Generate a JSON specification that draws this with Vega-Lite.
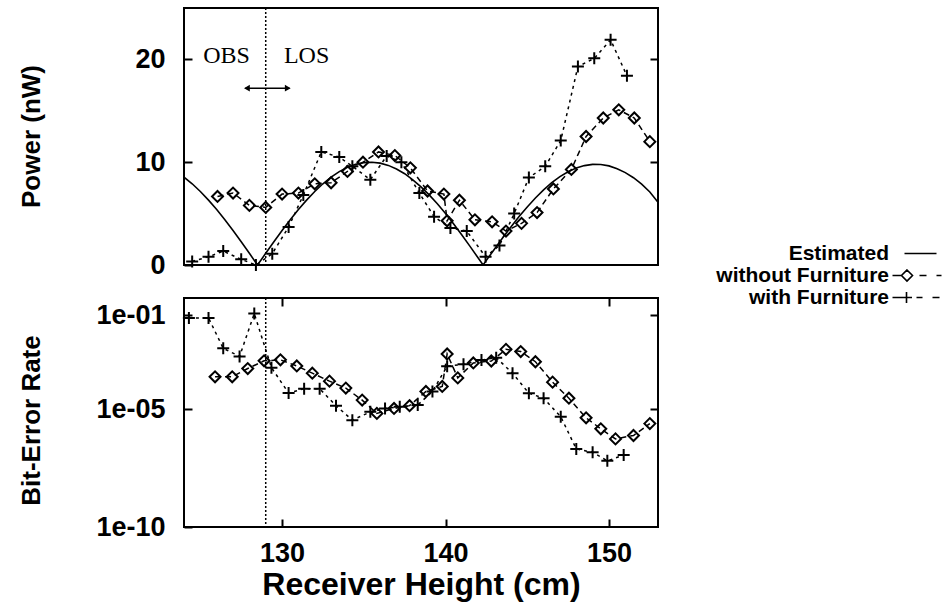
{
  "$schema": "https://vega.github.io/schema/vega-lite/v6.json",
  "padding": {"left": 17, "top": 6, "right": 5, "bottom": 5},
  "background": "white",
  "config": {
    "view": {"stroke": "black", "strokeWidth": 2},
    "font": "Liberation Sans",
    "axis": {
      "grid": false, "domain": false, "tickColor": "black", "tickWidth": 2, "tickSize": -8,
      "labelColor": "black", "labelFont": "Liberation Sans", "labelFontWeight": "bold", "labelFontSize": 27,
      "titleFont": "Liberation Sans", "titleFontWeight": "bold", "titleFontSize": 26, "titleColor": "black"
    }
  },
  "datasets": {
    "power": [
      {"series": "Estimated", "height": 124, "power": 8.54},
      {"series": "Estimated", "height": 124.5, "power": 7.9},
      {"series": "Estimated", "height": 125, "power": 7.15},
      {"series": "Estimated", "height": 125.5, "power": 6.31},
      {"series": "Estimated", "height": 126, "power": 5.39},
      {"series": "Estimated", "height": 126.5, "power": 4.4},
      {"series": "Estimated", "height": 127, "power": 3.35},
      {"series": "Estimated", "height": 127.5, "power": 2.26},
      {"series": "Estimated", "height": 128, "power": 1.14},
      {"series": "Estimated", "height": 128.5, "power": 0},
      {"series": "Estimated", "height": 129, "power": 1.14},
      {"series": "Estimated", "height": 129.5, "power": 2.26},
      {"series": "Estimated", "height": 130, "power": 3.35},
      {"series": "Estimated", "height": 130.5, "power": 4.4},
      {"series": "Estimated", "height": 131, "power": 5.39},
      {"series": "Estimated", "height": 131.5, "power": 6.31},
      {"series": "Estimated", "height": 132, "power": 7.15},
      {"series": "Estimated", "height": 132.5, "power": 7.9},
      {"series": "Estimated", "height": 133, "power": 8.54},
      {"series": "Estimated", "height": 133.5, "power": 9.08},
      {"series": "Estimated", "height": 134, "power": 9.5},
      {"series": "Estimated", "height": 134.5, "power": 9.79},
      {"series": "Estimated", "height": 135, "power": 9.96},
      {"series": "Estimated", "height": 135.5, "power": 10.0},
      {"series": "Estimated", "height": 136, "power": 9.91},
      {"series": "Estimated", "height": 136.5, "power": 9.69},
      {"series": "Estimated", "height": 137, "power": 9.34},
      {"series": "Estimated", "height": 137.5, "power": 8.88},
      {"series": "Estimated", "height": 138, "power": 8.29},
      {"series": "Estimated", "height": 138.5, "power": 7.6},
      {"series": "Estimated", "height": 139, "power": 6.82},
      {"series": "Estimated", "height": 139.5, "power": 5.96},
      {"series": "Estimated", "height": 140, "power": 5.0},
      {"series": "Estimated", "height": 140.5, "power": 3.99},
      {"series": "Estimated", "height": 141, "power": 2.92},
      {"series": "Estimated", "height": 141.5, "power": 1.81},
      {"series": "Estimated", "height": 142, "power": 0.68},
      {"series": "Estimated", "height": 142.3, "power": 0},
      {"series": "Estimated", "height": 142.5, "power": 0.45},
      {"series": "Estimated", "height": 143, "power": 1.56},
      {"series": "Estimated", "height": 143.5, "power": 2.65},
      {"series": "Estimated", "height": 144, "power": 3.7},
      {"series": "Estimated", "height": 144.5, "power": 4.71},
      {"series": "Estimated", "height": 145, "power": 5.65},
      {"series": "Estimated", "height": 145.5, "power": 6.52},
      {"series": "Estimated", "height": 146, "power": 7.31},
      {"series": "Estimated", "height": 146.5, "power": 8.01},
      {"series": "Estimated", "height": 147, "power": 8.6},
      {"series": "Estimated", "height": 147.5, "power": 9.07},
      {"series": "Estimated", "height": 148, "power": 9.44},
      {"series": "Estimated", "height": 148.5, "power": 9.67},
      {"series": "Estimated", "height": 149, "power": 9.79},
      {"series": "Estimated", "height": 149.5, "power": 9.78},
      {"series": "Estimated", "height": 150, "power": 9.64},
      {"series": "Estimated", "height": 150.5, "power": 9.37},
      {"series": "Estimated", "height": 151, "power": 8.99},
      {"series": "Estimated", "height": 151.5, "power": 8.49},
      {"series": "Estimated", "height": 152, "power": 7.87},
      {"series": "Estimated", "height": 152.5, "power": 7.1},
      {"series": "Estimated", "height": 153, "power": 6.1},
      {"series": "without Furniture", "height": 126.05, "power": 6.67},
      {"series": "without Furniture", "height": 127.0, "power": 7.0},
      {"series": "without Furniture", "height": 128.0, "power": 5.8},
      {"series": "without Furniture", "height": 129.0, "power": 5.6},
      {"series": "without Furniture", "height": 130.0, "power": 6.9},
      {"series": "without Furniture", "height": 131.0, "power": 7.0},
      {"series": "without Furniture", "height": 132.0, "power": 7.9},
      {"series": "without Furniture", "height": 133.0, "power": 8.0},
      {"series": "without Furniture", "height": 134.0, "power": 9.1},
      {"series": "without Furniture", "height": 134.95, "power": 10.0},
      {"series": "without Furniture", "height": 135.9, "power": 11.0},
      {"series": "without Furniture", "height": 136.9, "power": 10.65},
      {"series": "without Furniture", "height": 137.85, "power": 9.45},
      {"series": "without Furniture", "height": 138.9, "power": 7.2},
      {"series": "without Furniture", "height": 139.9, "power": 6.9},
      {"series": "without Furniture", "height": 140.1, "power": 4.3},
      {"series": "without Furniture", "height": 140.85, "power": 6.3},
      {"series": "without Furniture", "height": 141.8, "power": 4.4},
      {"series": "without Furniture", "height": 142.85, "power": 4.2},
      {"series": "without Furniture", "height": 143.7, "power": 3.3},
      {"series": "without Furniture", "height": 144.65, "power": 4.05},
      {"series": "without Furniture", "height": 145.6, "power": 5.1},
      {"series": "without Furniture", "height": 146.6, "power": 7.4},
      {"series": "without Furniture", "height": 147.7, "power": 9.3},
      {"series": "without Furniture", "height": 148.6, "power": 12.5},
      {"series": "without Furniture", "height": 149.65, "power": 14.3},
      {"series": "without Furniture", "height": 150.6, "power": 15.1},
      {"series": "without Furniture", "height": 151.55, "power": 14.3},
      {"series": "without Furniture", "height": 152.5, "power": 12.0},
      {"series": "with Furniture", "height": 124.5, "power": 0.35},
      {"series": "with Furniture", "height": 125.5, "power": 0.8},
      {"series": "with Furniture", "height": 126.4, "power": 1.35},
      {"series": "with Furniture", "height": 127.5, "power": 0.55},
      {"series": "with Furniture", "height": 128.4, "power": 0.0},
      {"series": "with Furniture", "height": 129.4, "power": 1.1},
      {"series": "with Furniture", "height": 130.4, "power": 3.7},
      {"series": "with Furniture", "height": 131.3, "power": 6.8},
      {"series": "with Furniture", "height": 132.4, "power": 11.0},
      {"series": "with Furniture", "height": 133.5, "power": 10.5},
      {"series": "with Furniture", "height": 134.3, "power": 9.6},
      {"series": "with Furniture", "height": 135.4, "power": 8.3},
      {"series": "with Furniture", "height": 136.4, "power": 10.6},
      {"series": "with Furniture", "height": 137.3, "power": 10.0},
      {"series": "with Furniture", "height": 138.4, "power": 7.0},
      {"series": "with Furniture", "height": 139.3, "power": 4.7},
      {"series": "with Furniture", "height": 140.3, "power": 3.6},
      {"series": "with Furniture", "height": 141.3, "power": 3.3},
      {"series": "with Furniture", "height": 142.45, "power": 0.8},
      {"series": "with Furniture", "height": 143.3, "power": 1.9},
      {"series": "with Furniture", "height": 144.2, "power": 5.0},
      {"series": "with Furniture", "height": 145.1, "power": 8.5},
      {"series": "with Furniture", "height": 146.1, "power": 9.6},
      {"series": "with Furniture", "height": 147.05, "power": 12.1},
      {"series": "with Furniture", "height": 148.1, "power": 19.3},
      {"series": "with Furniture", "height": 149.1, "power": 20.1},
      {"series": "with Furniture", "height": 150.1, "power": 21.9},
      {"series": "with Furniture", "height": 151.1, "power": 18.4}
    ],
    "ber": [
      {"series": "without Furniture", "height": 125.9, "ber": 2.45e-4},
      {"series": "without Furniture", "height": 126.95, "ber": 2.45e-4},
      {"series": "without Furniture", "height": 127.9, "ber": 5.5e-4},
      {"series": "without Furniture", "height": 128.9, "ber": 1.17e-3},
      {"series": "without Furniture", "height": 129.9, "ber": 1.29e-3},
      {"series": "without Furniture", "height": 130.9, "ber": 7.1e-4},
      {"series": "without Furniture", "height": 131.85, "ber": 3.5e-4},
      {"series": "without Furniture", "height": 132.9, "ber": 1.6e-4},
      {"series": "without Furniture", "height": 133.9, "ber": 8.1e-5},
      {"series": "without Furniture", "height": 134.9, "ber": 2.5e-5},
      {"series": "without Furniture", "height": 135.8, "ber": 6.8e-6},
      {"series": "without Furniture", "height": 136.85, "ber": 1.1e-5},
      {"series": "without Furniture", "height": 137.8, "ber": 1.45e-5},
      {"series": "without Furniture", "height": 138.8, "ber": 5.8e-5},
      {"series": "without Furniture", "height": 139.8, "ber": 9.5e-5},
      {"series": "without Furniture", "height": 140.1, "ber": 2.3e-3},
      {"series": "without Furniture", "height": 140.75, "ber": 2.2e-4},
      {"series": "without Furniture", "height": 141.7, "ber": 9.5e-4},
      {"series": "without Furniture", "height": 142.8, "ber": 1.15e-3},
      {"series": "without Furniture", "height": 143.7, "ber": 3.6e-3},
      {"series": "without Furniture", "height": 144.6, "ber": 2.9e-3},
      {"series": "without Furniture", "height": 145.5, "ber": 1.07e-3},
      {"series": "without Furniture", "height": 146.55, "ber": 1.45e-4},
      {"series": "without Furniture", "height": 147.55, "ber": 3.0e-5},
      {"series": "without Furniture", "height": 148.6, "ber": 4.4e-6},
      {"series": "without Furniture", "height": 149.5, "ber": 1.5e-6},
      {"series": "without Furniture", "height": 150.4, "ber": 5.6e-7},
      {"series": "without Furniture", "height": 151.5, "ber": 7.8e-7},
      {"series": "without Furniture", "height": 152.5, "ber": 2.5e-6},
      {"series": "with Furniture", "height": 124.3, "ber": 7.8e-2},
      {"series": "with Furniture", "height": 125.5, "ber": 7.8e-2},
      {"series": "with Furniture", "height": 126.4, "ber": 4.0e-3},
      {"series": "with Furniture", "height": 127.4, "ber": 1.8e-3},
      {"series": "with Furniture", "height": 128.3, "ber": 1.2e-1},
      {"series": "with Furniture", "height": 129.35, "ber": 6.0e-4},
      {"series": "with Furniture", "height": 130.4, "ber": 5.0e-5},
      {"series": "with Furniture", "height": 131.35, "ber": 7.6e-5},
      {"series": "with Furniture", "height": 132.3, "ber": 7.6e-5},
      {"series": "with Furniture", "height": 133.3, "ber": 1.45e-5},
      {"series": "with Furniture", "height": 134.3, "ber": 3.5e-6},
      {"series": "with Furniture", "height": 135.4, "ber": 7.9e-6},
      {"series": "with Furniture", "height": 136.3, "ber": 1.1e-5},
      {"series": "with Furniture", "height": 137.2, "ber": 1.3e-5},
      {"series": "with Furniture", "height": 138.3, "ber": 1.55e-5},
      {"series": "with Furniture", "height": 139.2, "ber": 5.8e-5},
      {"series": "with Furniture", "height": 140.1, "ber": 6.9e-4},
      {"series": "with Furniture", "height": 141.1, "ber": 8.3e-4},
      {"series": "with Furniture", "height": 142.2, "ber": 1.26e-3},
      {"series": "with Furniture", "height": 143.1, "ber": 1.6e-3},
      {"series": "with Furniture", "height": 144.1, "ber": 3.5e-4},
      {"series": "with Furniture", "height": 145.1, "ber": 4.9e-5},
      {"series": "with Furniture", "height": 146.0, "ber": 3.0e-5},
      {"series": "with Furniture", "height": 147.05, "ber": 4.9e-6},
      {"series": "with Furniture", "height": 148.0, "ber": 2.1e-7},
      {"series": "with Furniture", "height": 149.0, "ber": 1.5e-7},
      {"series": "with Furniture", "height": 149.9, "ber": 6.5e-8},
      {"series": "with Furniture", "height": 150.9, "ber": 1.15e-7}
    ],
    "boundary": [{"height": 129}],
    "labels": [
      {"label": "OBS", "height": 126.6, "power": 20.3},
      {"label": "LOS", "height": 131.5, "power": 20.3}
    ],
    "arrow": [{"from": 127.75, "to": 130.45, "power": 17.2}],
    "arrowheads": [
      {"end": "left", "height": 127.85, "power": 17.2},
      {"end": "right", "height": 130.35, "power": 17.2}
    ],
    "legend": [
      {"series": "Estimated"},
      {"series": "without Furniture"},
      {"series": "with Furniture"}
    ]
  },
  "spacing": 17,
  "vconcat": [
    {
      "width": 474,
      "height": 257,
      "resolve": {"axis": {"y": "independent", "x": "independent"}},
      "layer": [
        {
          "data": {"name": "power"},
          "transform": [{"filter": "datum.series === 'Estimated'"}],
          "mark": {"type": "line", "color": "black", "strokeWidth": 1.6, "clip": true},
          "encoding": {
            "x": {"field": "height", "type": "quantitative", "scale": {"domain": [124, 153], "nice": false, "zero": false}, "axis": null},
            "y": {"field": "power", "type": "quantitative", "scale": {"domain": [0, 25], "nice": false},
              "axis": {"orient": "left", "title": "Power (nW)", "values": [0, 10, 20], "labelPadding": 27, "titleX": -153, "titleY": 128, "titleBaseline": "middle", "titleAngle": 270}}
          }
        },
        {
          "data": {"name": "power"},
          "transform": [{"filter": "datum.series === 'without Furniture'"}],
          "mark": {"type": "line", "color": "black", "strokeWidth": 1.5, "strokeDash": [6, 4], "clip": true},
          "encoding": {
            "x": {"field": "height", "type": "quantitative", "axis": null},
            "y": {"field": "power", "type": "quantitative", "axis": {"orient": "right", "labels": false, "title": null, "values": [10, 20]}}
          }
        },
        {
          "data": {"name": "power"},
          "transform": [{"filter": "datum.series === 'with Furniture'"}],
          "mark": {"type": "line", "color": "black", "strokeWidth": 1.5, "strokeDash": [3, 4], "clip": true},
          "encoding": {
            "x": {"field": "height", "type": "quantitative", "axis": null},
            "y": {"field": "power", "type": "quantitative", "axis": null}
          }
        },
        {
          "data": {"name": "power"},
          "transform": [{"filter": "datum.series === 'without Furniture'"}],
          "mark": {"type": "point", "shape": "diamond", "size": 120, "filled": false, "color": "black", "strokeWidth": 2, "opacity": 1},
          "encoding": {
            "x": {"field": "height", "type": "quantitative", "axis": null},
            "y": {"field": "power", "type": "quantitative", "axis": null}
          }
        },
        {
          "data": {"name": "power"},
          "transform": [{"filter": "datum.series === 'with Furniture'"}],
          "mark": {"type": "point", "shape": "M-1,0L1,0M0,-1L0,1", "size": 144, "filled": false, "color": "black", "strokeWidth": 2, "opacity": 1},
          "encoding": {
            "x": {"field": "height", "type": "quantitative", "axis": null},
            "y": {"field": "power", "type": "quantitative", "axis": null}
          }
        },
        {
          "data": {"name": "boundary"},
          "mark": {"type": "rule", "color": "black", "strokeWidth": 1.5, "strokeDash": [2, 2]},
          "encoding": {
            "x": {"field": "height", "type": "quantitative", "axis": null}
          }
        },
        {
          "data": {"name": "labels"},
          "mark": {"type": "text", "font": "Liberation Serif", "fontSize": 24, "color": "black", "baseline": "middle", "align": "center"},
          "encoding": {
            "x": {"field": "height", "type": "quantitative", "axis": null},
            "y": {"field": "power", "type": "quantitative", "axis": null},
            "text": {"field": "label"}
          }
        },
        {
          "data": {"name": "arrow"},
          "mark": {"type": "rule", "color": "black", "strokeWidth": 1.5},
          "encoding": {
            "x": {"field": "from", "type": "quantitative", "axis": null},
            "x2": {"field": "to"},
            "y": {"field": "power", "type": "quantitative", "axis": null}
          }
        },
        {
          "data": {"name": "arrowheads"},
          "transform": [{"filter": "datum.end === 'left'"}],
          "mark": {"type": "point", "shape": "triangle-left", "filled": true, "color": "black", "size": 45, "opacity": 1},
          "encoding": {
            "x": {"field": "height", "type": "quantitative", "axis": null},
            "y": {"field": "power", "type": "quantitative", "axis": null}
          }
        },
        {
          "data": {"name": "arrowheads"},
          "transform": [{"filter": "datum.end === 'right'"}],
          "mark": {"type": "point", "shape": "triangle-right", "filled": true, "color": "black", "size": 45, "opacity": 1},
          "encoding": {
            "x": {"field": "height", "type": "quantitative", "axis": null},
            "y": {"field": "power", "type": "quantitative", "axis": null}
          }
        },
        {
          "data": {"name": "legend"},
          "mark": {"type": "point", "color": "black", "opacity": 0},
          "encoding": {
            "shape": {
              "field": "series", "type": "nominal",
              "scale": {
                "domain": ["Estimated", "without Furniture", "with Furniture"],
                "range": [
                  "M-1,0M35.2,0L41.6,0",
                  "M-1,0M32.8,0L34.6,0M35.7,-1.1L36.8,0L35.7,1.1L34.6,0ZM38.2,0L39.6,0M41.6,0L42.6,0",
                  "M-1,0M32.8,0L36.7,0M35.6,-1.1L35.6,1.1M37.6,0L38.8,0M40.8,0L42.2,0"
                ]
              },
              "legend": {
                "title": null, "orient": "none", "legendX": 534, "legendY": 235,
                "labelFont": "Liberation Sans", "labelFontWeight": "bold", "labelFontSize": 21, "labelColor": "black",
                "labelAlign": "right", "labelOffset": 150, "labelLimit": 400, "symbolSize": 100, "symbolStrokeColor": "black",
                "symbolFillColor": "transparent", "symbolStrokeWidth": 1.6, "symbolOpacity": 1, "rowPadding": 0
              }
            }
          }
        }
      ]
    },
    {
      "width": 474,
      "height": 229,
      "resolve": {"axis": {"y": "independent", "x": "independent"}},
      "layer": [
        {
          "data": {"name": "ber"},
          "transform": [{"filter": "datum.series === 'without Furniture'"}],
          "mark": {"type": "line", "color": "black", "strokeWidth": 1.5, "strokeDash": [6, 4], "clip": true},
          "encoding": {
            "x": {"field": "height", "type": "quantitative", "scale": {"domain": [124, 153], "nice": false, "zero": false},
              "axis": {"orient": "bottom", "title": "Receiver Height (cm)", "values": [130, 140, 150], "labelPadding": 21, "titleFontSize": 32, "titlePadding": 3}},
            "y": {"field": "ber", "type": "quantitative", "scale": {"type": "log", "domain": [1e-10, 0.55], "nice": false},
              "axis": {"orient": "left", "title": "Bit-Error Rate", "values": [1e-10, 1e-5, 1e-1], "labelExpr": "datum.value < 1e-8 ? '1e-10' : (datum.value < 1e-3 ? '1e-05' : '1e-01')", "labelPadding": 27, "titleX": -153, "titleY": 122, "titleBaseline": "middle", "titleAngle": 270}}
          }
        },
        {
          "data": {"name": "ber"},
          "transform": [{"filter": "datum.series === 'with Furniture'"}],
          "mark": {"type": "line", "color": "black", "strokeWidth": 1.5, "strokeDash": [3, 4], "clip": true},
          "encoding": {
            "x": {"field": "height", "type": "quantitative", "axis": {"orient": "top", "labels": false, "title": null, "values": [130, 140, 150]}},
            "y": {"field": "ber", "type": "quantitative", "axis": {"orient": "right", "labels": false, "title": null, "values": [1e-5, 1e-1]}}
          }
        },
        {
          "data": {"name": "ber"},
          "transform": [{"filter": "datum.series === 'without Furniture'"}],
          "mark": {"type": "point", "shape": "diamond", "size": 120, "filled": false, "color": "black", "strokeWidth": 2, "opacity": 1},
          "encoding": {
            "x": {"field": "height", "type": "quantitative", "axis": null},
            "y": {"field": "ber", "type": "quantitative", "axis": null}
          }
        },
        {
          "data": {"name": "ber"},
          "transform": [{"filter": "datum.series === 'with Furniture'"}],
          "mark": {"type": "point", "shape": "M-1,0L1,0M0,-1L0,1", "size": 144, "filled": false, "color": "black", "strokeWidth": 2, "opacity": 1},
          "encoding": {
            "x": {"field": "height", "type": "quantitative", "axis": null},
            "y": {"field": "ber", "type": "quantitative", "axis": null}
          }
        },
        {
          "data": {"name": "boundary"},
          "mark": {"type": "rule", "color": "black", "strokeWidth": 1.5, "strokeDash": [2, 2]},
          "encoding": {
            "x": {"field": "height", "type": "quantitative", "axis": null}
          }
        }
      ]
    }
  ]
}
